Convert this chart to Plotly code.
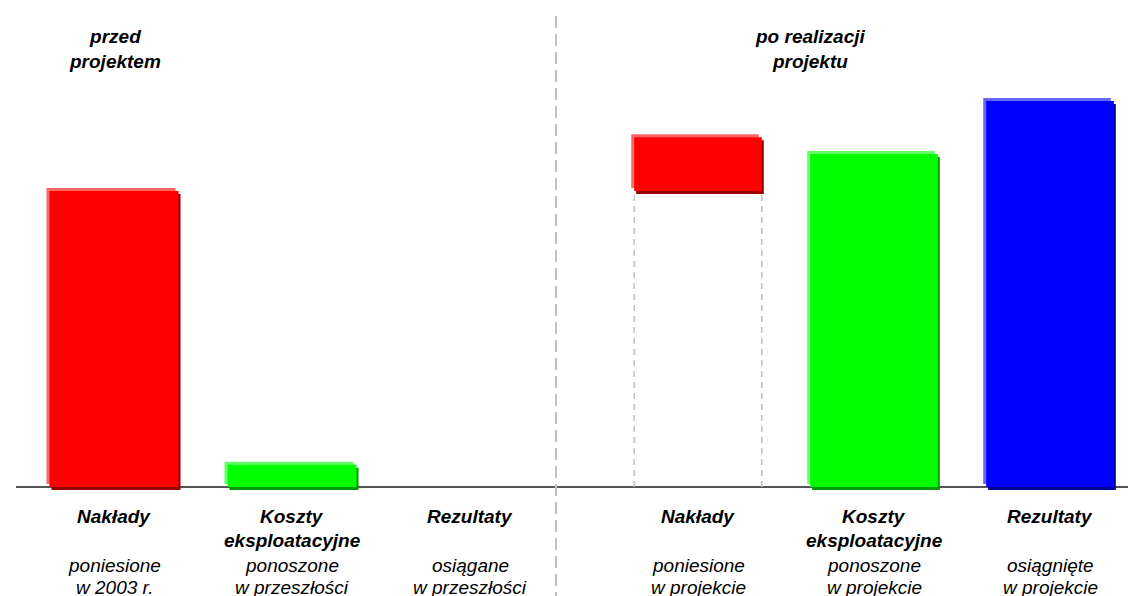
import plotly.graph_objects as go

# ---- data ----
group_titles = ["przed projektem", "po realizacji projektu"]
categories = ["Nakłady", "Koszty eksploatacyjne", "Rezultaty"]
before_notes = [["poniesione", "w 2003 r."], ["ponoszone", "w przeszłości"], ["osiągane", "w przeszłości"]]
after_notes = [["poniesione", "w projekcie"], ["ponoszone", "w projekcie"], ["osiągnięte", "w projekcie"]]
before_values = [100, 7.5, 0]
after_bases = [100, 0, 0]
after_values = [18.2, 112.5, 130.4]

# ---- styles ----
main_colors = ["#FF0000", "#00FF00", "#0000FF"]
light_colors = ["#FF6666", "#66FF66", "#6666FF"]
dark_colors = ["#990000", "#009900", "#000099"]

W, H = 1136, 596
BASE_PX = 479          # pixel row of zero line
PX_PER_UNIT = 2.96
LEFT_DOM = (17, 551)
RIGHT_DOM = (602, 1130)
BAR_W = 0.725
FONT = "Liberation Sans, Arial, sans-serif"
FS = 19
BOLD_ROWS = [508, 532]   # pixel centres of title lines
NOTE_ROWS = [557, 579]   # pixel centres of note lines

y_range = [-(H - BASE_PX) / PX_PER_UNIT, BASE_PX / PX_PER_UNIT]

fig = go.Figure()


def add_group(xaxis, values, bases, dom):
    ppx = (dom[1] - dom[0]) / 3.0
    xs = list(range(len(categories)))
    layers = [
        (dark_colors, 2 / ppx, -3 / PX_PER_UNIT),
        (light_colors, -3 / ppx, 3 / PX_PER_UNIT),
        (main_colors, 0.0, 0.0),
    ]
    for cols, dx, dy in layers:
        fig.add_trace(go.Bar(
            x=xs, y=values, base=[b + dy for b in bases],
            width=BAR_W, offset=-BAR_W / 2 + dx,
            marker=dict(color=cols, line=dict(width=0)),
            xaxis=xaxis, yaxis="y", showlegend=False, hoverinfo="skip",
        ))


add_group("x", before_values, [0, 0, 0], LEFT_DOM)
add_group("x2", after_values, after_bases, RIGHT_DOM)

# dashed connectors under the floating bar
cx, cy = [], []
for i, b in enumerate(after_bases):
    if b > 0:
        for edge in (-BAR_W / 2, BAR_W / 2):
            cx += [i + edge, i + edge, None]
            cy += [0, b, None]
fig.add_trace(go.Scatter(x=cx, y=cy, mode="lines", xaxis="x2", yaxis="y",
                         line=dict(color="#C0C0C0", width=1.5, dash="6px,5px"),
                         showlegend=False, hoverinfo="skip"))

# zero line
fig.add_shape(type="line", xref="paper", yref="y", x0=8 / W, x1=1, y0=0, y1=0,
              line=dict(color="#555555", width=2), layer="below")
# divider
fig.add_shape(type="line", xref="paper", yref="paper", x0=548 / W, x1=548 / W,
              y0=0, y1=1 - 8 / H, line=dict(color="#C0C0C0", width=2, dash="12px,6px"))


def line_label(xref, x, row_px, text):
    fig.add_annotation(x=x, xref=xref, y=1 - row_px / H, yref="paper",
                       yanchor="middle", xanchor="center", showarrow=False,
                       text=text, align="center",
                       font=dict(family=FONT, size=FS, color="black", style="italic"))


# category labels
for xref, notes in (("x", before_notes), ("x2", after_notes)):
    for i, cat in enumerate(categories):
        for row, word in zip(BOLD_ROWS, cat.split(" ")):
            line_label(xref, i, row, "<b>" + word + "</b>")
        for row, line in zip(NOTE_ROWS, notes[i]):
            line_label(xref, i, row, line)

# group titles
for title, xc in zip(group_titles, (107, 802)):
    words = title.rsplit(" ", 1)
    text = "<br>".join("<b>" + w + "</b>" for w in words)
    fig.add_annotation(x=xc / W, xref="paper", y=1 - 16 / H, yref="paper",
                       yanchor="top", xanchor="center", showarrow=False,
                       text=text, align="center",
                       font=dict(family=FONT, size=FS, color="black", style="italic"))

axis_common = dict(range=[-0.5, 2.5], showgrid=False, zeroline=False,
                   showticklabels=False, showline=False, fixedrange=True)
fig.update_layout(
    width=W, height=H,
    margin=dict(l=0, r=0, t=0, b=0),
    paper_bgcolor="white", plot_bgcolor="white",
    barmode="overlay", showlegend=False,
    xaxis=dict(domain=[LEFT_DOM[0] / W, LEFT_DOM[1] / W], anchor="y", **axis_common),
    xaxis2=dict(domain=[RIGHT_DOM[0] / W, RIGHT_DOM[1] / W], anchor="y", **axis_common),
    yaxis=dict(domain=[0, 1], range=y_range, showgrid=False, zeroline=False,
               showticklabels=False, showline=False, fixedrange=True),
)

fig.write_html("out.html")
